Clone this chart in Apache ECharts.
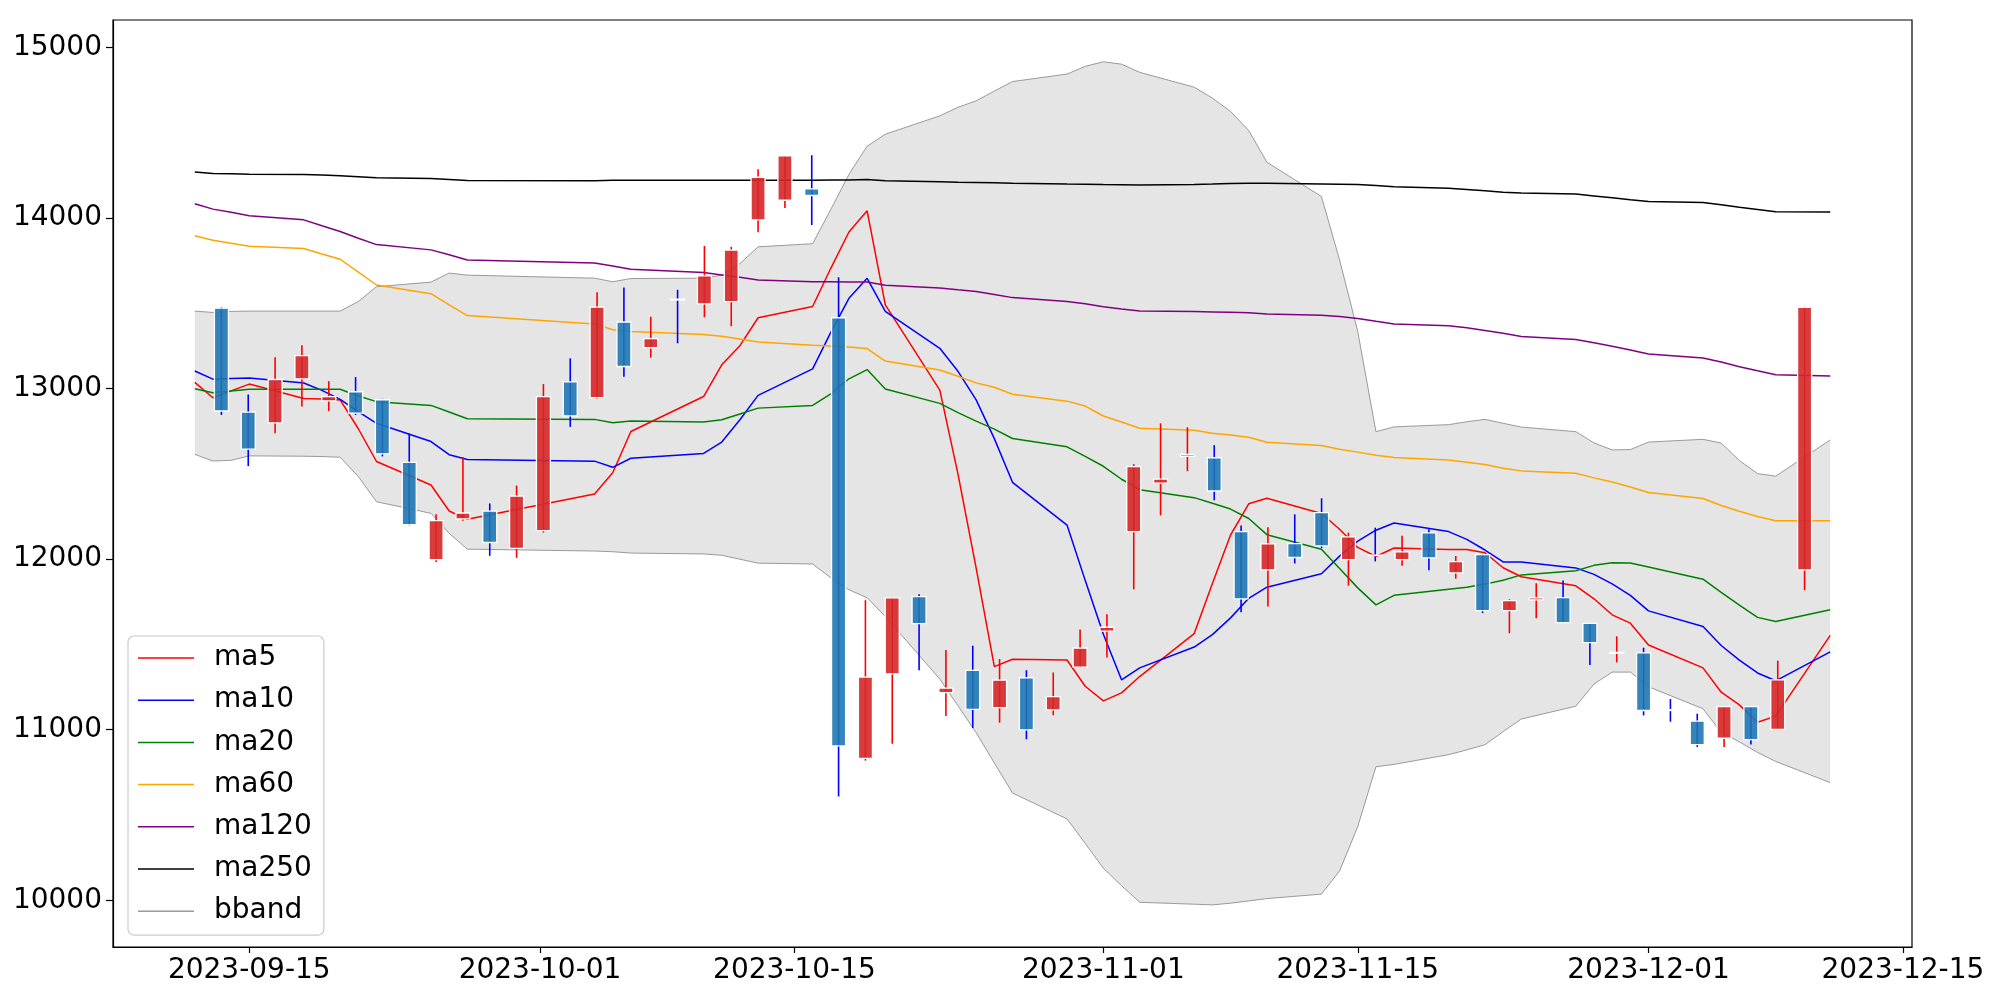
<!DOCTYPE html>
<html>
<head>
<meta charset="utf-8">
<script src="https://cdn.jsdelivr.net/npm/echarts@6/dist/echarts.min.js"></script>
<style>
  html, body { margin: 0; padding: 0; background: #fff; }
  #chart { width: 2000px; height: 1000px; }
</style>
</head>
<body>
<div id="chart"></div>
<script>
// trading days
const dates = ['2023-09-12','2023-09-13','2023-09-14','2023-09-15','2023-09-18','2023-09-19','2023-09-20','2023-09-21','2023-09-22','2023-09-25','2023-09-26','2023-09-27','2023-10-04','2023-10-05','2023-10-06','2023-10-10','2023-10-11','2023-10-12','2023-10-13','2023-10-16','2023-10-17','2023-10-18','2023-10-19','2023-10-20','2023-10-23','2023-10-24','2023-10-25','2023-10-26','2023-10-27','2023-10-30','2023-10-31','2023-11-01','2023-11-02','2023-11-03','2023-11-06','2023-11-07','2023-11-08','2023-11-09','2023-11-10','2023-11-13','2023-11-14','2023-11-15','2023-11-16','2023-11-17','2023-11-20','2023-11-21','2023-11-22','2023-11-23','2023-11-24','2023-11-27','2023-11-28','2023-11-29','2023-11-30','2023-12-01','2023-12-04','2023-12-05','2023-12-06','2023-12-07','2023-12-08','2023-12-11'];

const opens = [13472,12863,12799,13058,12929,12982,12935,12568,11998,12236, 12282,12063,12168,13040,12947,13391,13240,13525,13497,13510, 13990,14105,14172,13416,10832,11328,11781,11218,11348,11130, 11305,11116,11367,11578,12162,12446,12603,12595,12162,11938, 12092,12273,11998,12024,11998,12154,11920,12027,11699,11761, 11775,11624,11448,11451,11118,11051,10950,11135,11002,11937];
const closes = [12869,12645,13054,13194,12953,12857,12618,12203,12226,12271, 12098,12370,12953,12840,13478,13130,13294,13520,13661,13813, 14240,14366,14133,10905,11309,11773,11622,11244,11119,11291, 10999,11194,11479,11601,12543,12470,12614,12400,11767,12090, 12010,12078,12131,12023,12043,12008,11986,11699,11757,11773, 11628,11511,11454,11113,11113,10913,11135,10942,11293,13477];
const lows = [12846,12546,12739,12896,12869,12846,12603,12198,11983,12226, 12020,12008,12156,12776,12941,13070,13182,13266,13419,13366, 13918,14060,13960,10608,10819,10918,11349,11080,11010,11041, 10944,11085,11363,11424,11823,12257,12516,12346,11689,11722, 11975,12065,11845,11987,11961,11936,11886,11685,11566,11654, 11626,11379,11395,11084,11047,10899,10899,10913,10998,11818];
const highs = [13478,12966,13184,13254,13044,13068,12941,12737,12263,12599, 12327,12432,13027,13178,13566,13593,13422,13580,13837,13832, 14287,14369,14369,13654,11760,11775,11794,11467,11493,11415, 11349,11336,11588,11677,12557,12797,12774,12669,12197,12187, 12263,12357,12156,12185,12137,12176,12019,12031,11765,11859, 11875,11626,11548,11481,11180,11094,11138,11138,11405,13480];

const ma5 = [13037,12947,12987,13027,12943,12940,12934,12765,12573,12435, 12283,12234,12383,12507,12749,12954,13140,13252,13416,13482, 13706,13919,14043,13492,12992,12499,11948,11370,11413,11409, 11255,11169,11216,11312,11564,11857,12142,12325,12358,12268, 12176,12069,12016,12066,12057,12057,12038,11950,11897,11844, 11768,11674,11625,11497,11363,11220,11146,11044,11080,11553];
const ma10 = [13104,13056,13060,13062,13033,12990,12937,12865,12797,12690, 12613,12585,12575,12539,12592,12620,12687,12818,12961,13116, 13330,13530,13647,13453,13237,13102,12934,12707,12451,12200, 11876,11560,11293,11363,11485,11558,11656,11771,11836,11915, 12018,12106,12170,12212,12162,12116,12054,11984,11983,11949, 11911,11855,11788,11697,11605,11494,11408,11333,11287,11457];
const ma20 = [13000,12976,12986,12997,12997,12997,12997,12957,12924,12902, 12863,12824,12820,12800,12810,12805,12818,12852,12886,12902, 12970,13058,13112,12998,12914,12860,12810,12763,12708,12659, 12603,12545,12469,12408,12361,12328,12294,12239,12144,12059, 11946,11832,11732,11788,11824,11836,11854,11877,11908,11932, 11964,11979,11978,11954,11883,11805,11731,11659,11635,11704];
const ma60 = [13897,13870,13853,13835,13822,13790,13759,13683,13608,13557, 13492,13429,13380,13346,13336,13318,13308,13292,13274,13255, 13250,13245,13235,13162,13110,13073,13034,13008,12967,12927, 12898,12840,12805,12768,12756,12739,12729,12715,12686,12667, 12645,12628,12610,12597,12582,12569,12555,12534,12518,12504, 12477,12453,12424,12391,12356,12315,12281,12250,12225,12225];
const ma120 = [14084,14053,14034,14014,13990,13955,13922,13882,13845,13814, 13785,13755,13737,13720,13701,13681,13667,13653,13638,13627, 13627,13625,13625,13606,13591,13580,13570,13552,13534,13511, 13498,13481,13467,13456,13452,13450,13448,13446,13438,13431, 13423,13411,13395,13380,13369,13357,13341,13325,13306,13288, 13269,13249,13227,13203,13180,13156,13129,13105,13082,13074];
const ma250 = [14270,14262,14260,14258,14256,14253,14249,14243,14237,14233, 14227,14221,14219,14222,14222,14222,14222,14222,14222,14222, 14224,14224,14227,14219,14214,14211,14209,14207,14204,14200, 14199,14197,14196,14195,14198,14200,14203,14205,14204,14201, 14199,14197,14191,14184,14176,14168,14160,14152,14147,14141, 14130,14119,14108,14098,14092,14078,14064,14051,14038,14036];
const bbUpper = [13455,13447,13453,13455,13455,13455,13455,13511,13598,13625, 13678,13666,13648,13627,13646,13648,13666,13733,13832,13850, 14051,14257,14422,14492,14600,14650,14688,14745,14801,14845, 14890,14917,14903,14855,14768,14704,14626,14514,14328,14127, 13755,13335,12748,12776,12789,12806,12820,12797,12775,12748, 12682,12641,12643,12687,12703,12681,12579,12502,12487,12699];
const bbLower = [12615,12576,12580,12606,12604,12602,12598,12485,12337,12269, 12152,12059,12048,12044,12036,12031,12023,12000,11977,11972, 11891,11821,11774,11664,11297,11140,10983,10805,10629,10477, 10334,10188,10086,9988,9977,9973,9983,9996,10010,10036, 10172,10432,10783,10797,10854,10882,10912,10989,11063,11138, 11268,11338,11338,11252,11123,10985,10929,10867,10814,10690];

const xTickLabels = ['2023-09-15','2023-10-01','2023-10-15','2023-11-01','2023-11-15','2023-12-01','2023-12-15'];
const yTickValues = [10000, 11000, 12000, 13000, 14000, 15000];

const FONT = 'DejaVu Sans';
const FS = 28;
const toTs = s => new Date(s + 'T00:00:00').getTime();
const X_MIN = new Date('2023-09-07T12:00:00').getTime();
const X_MAX = new Date('2023-12-15T12:00:00').getTime();
const Y_MIN = 9726;
const Y_MAX = 15162;

const pad = n => (n < 10 ? '0' : '') + n;
const fmtDate = v => {
  const d = new Date(v);
  return d.getFullYear() + '-' + pad(d.getMonth() + 1) + '-' + pad(d.getDate());
};

const pairs = arr => dates.map((d, i) => [toTs(d), arr[i]]);
const candleData = dates.map((d, i) => [i, opens[i], closes[i], lows[i], highs[i]]);
const bandData = dates.map((d, i) => [toTs(d), bbLower[i], bbUpper[i]]);

const maLine = (name, data, color) => ({
  name, type: 'line', data: pairs(data),
  xAxisIndex: 0, yAxisIndex: 0,
  symbol: 'none', showSymbol: false, z: 3,
  lineStyle: { color, width: 1.5 },
  itemStyle: { color }
});

const bandLine = (name, data) => ({
  name, type: 'line', data: pairs(data),
  symbol: 'none', showSymbol: false, z: 2,
  lineStyle: { color: '#9a9a9a', width: 1 },
  itemStyle: { color: '#9a9a9a' }
});

const chart = echarts.init(document.getElementById('chart'), null, { renderer: 'canvas' });

chart.setOption({
  animation: false,
  backgroundColor: '#fff',
  textStyle: { fontFamily: FONT },
  grid: [
    { left: 113, right: 88, top: 20, bottom: 53, show: true, borderColor: '#000', borderWidth: 1.2, backgroundColor: 'transparent' },
    { left: 208, width: 1610, top: 20, bottom: 53 }
  ],
  xAxis: [
    {
      type: 'value', gridIndex: 0, min: X_MIN, max: X_MAX, scale: true, z: 10,
      axisLine: { lineStyle: { color: '#000', width: 1.2 } },
      axisTick: { show: true, length: 6, lineStyle: { color: '#000', width: 1.2 }, customValues: xTickLabels.map(toTs) },
      axisLabel: {
        color: '#000', fontSize: FS, fontFamily: FONT, margin: 10,
        customValues: xTickLabels.map(toTs),
        formatter: v => fmtDate(v)
      },
      splitLine: { show: false }
    },
    { type: 'category', gridIndex: 1, data: dates, show: false, boundaryGap: true }
  ],
  yAxis: [
    {
      type: 'value', gridIndex: 0, min: Y_MIN, max: Y_MAX, z: 10,
      axisLine: { show: true, lineStyle: { color: '#000', width: 1.2 } },
      axisTick: { show: true, length: 7, lineStyle: { color: '#000', width: 1.2 }, customValues: yTickValues },
      axisLabel: { color: '#000', fontSize: FS, fontFamily: FONT, margin: 11, customValues: yTickValues, formatter: v => String(v) },
      splitLine: { show: false }
    },
    { type: 'value', gridIndex: 1, min: Y_MIN, max: Y_MAX, show: false, splitLine: { show: false } }
  ],
  legend: {
    orient: 'vertical', left: 128, top: 636,
    data: ['ma5', 'ma10', 'ma20', 'ma60', 'ma120', 'ma250', 'bband'],
    icon: 'rect',
    itemWidth: 56, itemHeight: 1.5, itemGap: 14.2,
    padding: [8, 12, 10, 10],
    backgroundColor: 'rgba(255,255,255,0.8)',
    borderColor: '#cccccc', borderWidth: 1.2, borderRadius: 6,
    textStyle: { fontSize: FS, color: '#000', fontFamily: FONT, lineHeight: 28, padding: [0, 0, 0, 15] }
  },
  series: [
    {
      // band fill between lower and upper, one polygon
      name: 'bbandFill', type: 'custom', z: 1,
      xAxisIndex: 0, yAxisIndex: 0,
      data: bandData,
      encode: { x: 0, y: [1, 2] },
      renderItem: (params, api) => {
        if (params.dataIndex !== 0) return null;
        const top = bandData.map(p => api.coord([p[0], p[2]]));
        const bottom = bandData.map(p => api.coord([p[0], p[1]])).reverse();
        return {
          type: 'polygon',
          shape: { points: top.concat(bottom) },
          style: { fill: '#e5e5e5' }
        };
      }
    },
    bandLine('bbandUpper', bbUpper),
    bandLine('bband', bbLower),
    maLine('ma5', ma5, '#ff0000'),
    maLine('ma10', ma10, '#0000ff'),
    maLine('ma20', ma20, '#008000'),
    maLine('ma60', ma60, '#ffa500'),
    maLine('ma120', ma120, '#800080'),
    maLine('ma250', ma250, '#000000'),
    {
      name: 'candles', type: 'custom',
      xAxisIndex: 1, yAxisIndex: 1, z: 5,
      data: candleData,
      encode: { x: 0, y: [1, 2, 3, 4] },
      renderItem: (params, api) => {
        const idx = api.value(0);
        const o = api.value(1), c = api.value(2), l = api.value(3), h = api.value(4);
        const up = c >= o;
        const x = api.coord([idx, o])[0];
        const yo = api.coord([idx, o])[1];
        const yc = api.coord([idx, c])[1];
        const yl = api.coord([idx, l])[1];
        const yh = api.coord([idx, h])[1];
        const bw = 14;
        return {
          type: 'group',
          children: [
            { type: 'line', shape: { x1: x, y1: yl, x2: x, y2: yh },
              style: { stroke: up ? '#ff0000' : '#0000ff', lineWidth: 1.6 } },
            { type: 'rect', shape: { x: x - bw / 2, y: Math.min(yo, yc), width: bw, height: Math.max(Math.abs(yo - yc), 0.5) },
              style: { fill: up ? 'rgba(214,39,40,0.9)' : 'rgba(31,119,180,0.9)', stroke: '#ffffff', lineWidth: 1.3 } }
          ]
        };
      }
    }
  ]
});
</script>
</body>
</html>
